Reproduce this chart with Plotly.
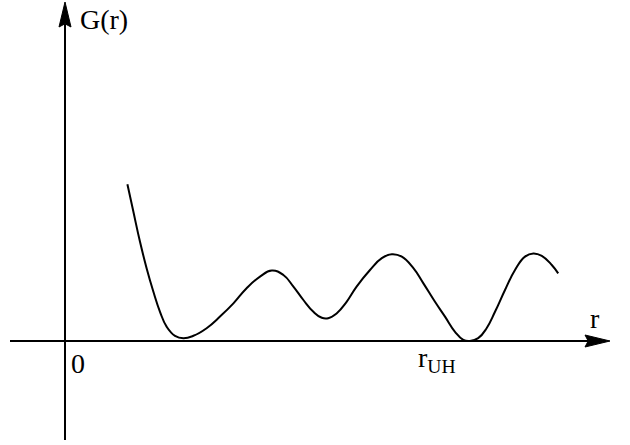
import plotly.graph_objects as go

# Curve G(r) (schematic units)
r_vals = [1.56, 1.71, 1.875, 2.04, 2.21, 2.375, 2.54, 2.75, 2.96, 3.21, 3.54, 3.875,
          4.21, 4.54, 4.875, 5.17, 5.46, 5.71, 5.96, 6.21, 6.42, 6.58, 6.79, 7.04,
          7.29, 7.625, 7.92, 8.17, 8.42, 8.71, 8.96, 9.25, 9.5, 9.75, 9.96, 10.125,
          10.33, 10.54, 10.75, 11.0, 11.25, 11.5, 11.71, 11.92, 12.17, 12.33]
g_vals = [3.92, 3.23, 2.48, 1.82, 1.23, 0.73, 0.36, 0.13, 0.07, 0.13, 0.32, 0.61,
          0.94, 1.32, 1.61, 1.76, 1.65, 1.36, 1.025, 0.73, 0.58, 0.57, 0.69, 0.98,
          1.36, 1.775, 2.07, 2.17, 2.11, 1.82, 1.44, 0.98, 0.61, 0.23, 0.025, 0.0,
          0.07, 0.32, 0.73, 1.275, 1.775, 2.11, 2.19, 2.13, 1.9, 1.69]

x_label = "r"
y_label = "G(r)"
origin_label = "0"
r_uh_label = "r<sub>UH</sub>"
r_uh = 10.125

# axes extents (data units)
x_axis_start, x_axis_end = -1.375, 13.625
y_axis_start, y_axis_end = -2.475, 8.475
head_len, head_half = 0.625, 0.15
notch = 0.08

fig = go.Figure()
fig.add_trace(go.Scatter(x=r_vals, y=g_vals, mode="lines",
                         line=dict(color="black", width=2, shape="spline", smoothing=1.3),
                         hoverinfo="skip", showlegend=False))

shapes = [
    dict(type="line", x0=x_axis_start, y0=0, x1=x_axis_end - head_len + notch, y1=0,
         line=dict(color="black", width=2)),
    dict(type="line", x0=0, y0=y_axis_start, x1=0, y1=y_axis_end - head_len + notch,
         line=dict(color="black", width=2)),
    dict(type="path",
         path=f"M {x_axis_end},0 L {x_axis_end-head_len},{head_half} L {x_axis_end-head_len+notch},0 L {x_axis_end-head_len},{-head_half} Z",
         fillcolor="black", line=dict(color="black", width=1)),
    dict(type="path",
         path=f"M 0,{y_axis_end} L {head_half},{y_axis_end-head_len} L 0,{y_axis_end-head_len+notch} L {-head_half},{y_axis_end-head_len} Z",
         fillcolor="black", line=dict(color="black", width=1)),
]

font = dict(family="Liberation Serif, Times New Roman, serif", size=28, color="black")
annotations = [
    dict(x=0.33, y=8.05, text=y_label, showarrow=False, xanchor="left", yanchor="middle", font=font),
    dict(x=13.25, y=0.57, text=x_label, showarrow=False, xanchor="center", yanchor="middle", font=font),
    dict(x=0.1, y=-0.57, text=origin_label, showarrow=False, xanchor="left", yanchor="middle", font=font),
    dict(x=r_uh - 1.35, y=-0.45, text=r_uh_label, showarrow=False, xanchor="left", yanchor="middle", font=font),
]

fig.update_layout(
    width=630, height=445,
    margin=dict(l=0, r=0, t=0, b=0),
    paper_bgcolor="white", plot_bgcolor="white",
    xaxis=dict(range=[-1.625, 14.125], visible=False, fixedrange=True),
    yaxis=dict(range=[-2.6, 8.525], visible=False, fixedrange=True),
    shapes=shapes, annotations=annotations,
)

fig.write_html("out.html", config={"displayModeBar": False},
               post_script="document.body.style.margin='0';document.body.style.overflow='hidden';")
